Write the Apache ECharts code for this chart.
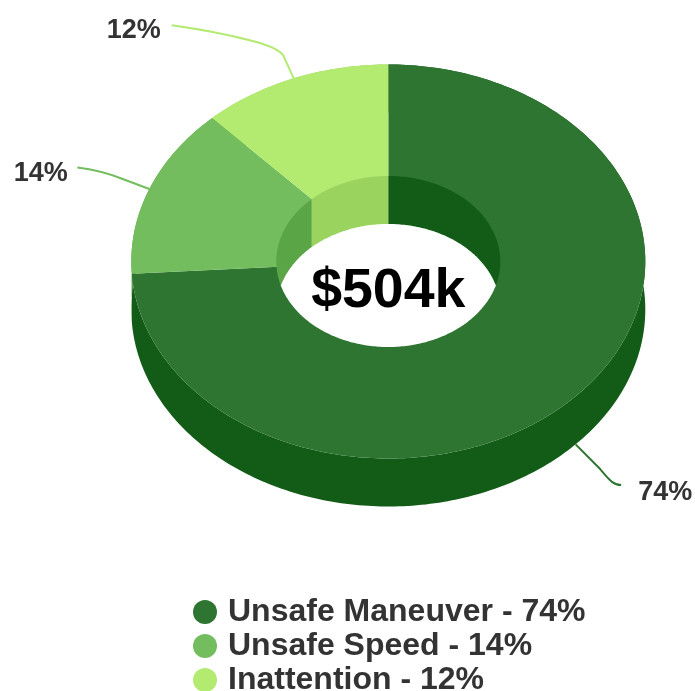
<!DOCTYPE html>
<html>
<head>
<meta charset="utf-8">
<style>html,body{margin:0;padding:0;background:#fff}#c{width:695px;height:691px}</style>
<script src="https://cdn.jsdelivr.net/npm/echarts@6/dist/echarts.min.js"></script>
</head>
<body>
<div id="c"></div>
<script>
var categories = ['Unsafe Maneuver', 'Unsafe Speed', 'Inattention'];
var values = [74, 14, 12];
var centerLabel = '$504k';

var topColors = ['#2e7531', '#73bd5e', '#b3ea70'];
var sideColors = ['#125c17', '#5aa545', '#9bd35f'];
var textColor = '#333333';
var FONT = '"Liberation Sans", Arial, sans-serif';

var CX = 388.3, CY = 261.5, RX = 257, RY = 197, IRX = 112, IRY = 85.5, DEPTH = 48;
// leader path after the anchor point on the rim, relative to that anchor; label centre likewise
var leaders = [
  { path: 'l24.5 24.7 c8 9 12 16 21 16', lx: 89.5, ly: 48.5 },
  { path: 'l-28 -10.5 q-20 -8 -44 -11', lx: -108.5, ly: -15.5 },
  { path: 'l-10 -22 q-4 -8 -30 -15 q-38 -10 -82 -16', lx: -160, ly: -48 }
];

var total = values.reduce(function (a, b) { return a + b; }, 0);
function pt(deg, rx, ry, dy) {
  var r = deg * Math.PI / 180;
  return [CX + rx * Math.sin(r), CY - ry * Math.cos(r) + (dy || 0)];
}
function arc(a0, a1, rx, ry, dy) {
  var n = Math.max(2, Math.ceil(Math.abs(a1 - a0))), out = [];
  for (var i = 0; i <= n; i++) out.push(pt(a0 + (a1 - a0) * i / n, rx, ry, dy));
  return out;
}
function startOf(k) {
  var s = 0;
  for (var i = 0; i < k; i++) s += values[i];
  return s / total * 360;
}
// inner wall: rim arc extruded straight down, cut off at the front edge of the opening
function wall(a0, a1) {
  var rim = arc(a0, a1, IRX, IRY, 0);
  var low = rim.map(function (p) {
    var u = (p[0] - CX) / IRX;
    var front = CY + IRY * Math.sqrt(Math.max(0, 1 - u * u));
    return [p[0], Math.min(p[1] + DEPTH, front)];
  });
  return rim.concat(low.reverse());
}

function sliceRenderer(k) {
  return function (params, api) {
    var a0 = startOf(k), a1 = a0 + api.value(0) / total * 360, mid = (a0 + a1) / 2;
    var children = [];
    var side = arc(a0, a1, RX, RY, 0).concat(arc(a1, a0, RX, RY, DEPTH));
    children.push({ type: 'polygon', z2: 1, shape: { points: side }, style: { fill: sideColors[k] } });
    children.push({ type: 'polygon', z2: 2, shape: { points: [[CX, CY]].concat(arc(a0, a1, RX, RY, 0)) }, style: { fill: topColors[k] } });
    children.push({ type: 'polygon', z2: 3, shape: { points: wall(a0, a1) }, style: { fill: sideColors[k] } });
    var front = Math.cos(mid * Math.PI / 180) < 0;
    var a = pt(mid, RX, RY, front ? DEPTH : 0);
    var lead = leaders[k];
    children.push({
      type: 'path', z2: 5,
      shape: { pathData: 'M' + a[0] + ' ' + a[1] + ' ' + lead.path },
      style: { fill: 'none', stroke: topColors[k], lineWidth: 2 }
    });
    children.push({
      type: 'text', z2: 6,
      style: {
        x: a[0] + lead.lx, y: a[1] + lead.ly,
        text: Math.round(api.value(0) / total * 100) + '%',
        font: 'bold 27px ' + FONT, fill: textColor, align: 'center', verticalAlign: 'middle'
      }
    });
    return { type: 'group', children: children };
  };
}

function holeRenderer() {
  // visible opening: intersection of the rim ellipse and the same ellipse lowered by the depth
  var t = Math.acos((DEPTH / 2) / IRY) * 180 / Math.PI;
  var lower = arc(180 - t, 180 + t, IRX, IRY, 0);
  var upper = arc(360 - t, 360 + t, IRX, IRY, DEPTH);
  return {
    type: 'polygon', z2: 4,
    shape: { points: lower.concat(upper) },
    style: { fill: '#ffffff' }
  };
}

var series = categories.map(function (name, k) {
  return {
    type: 'custom', name: name, coordinateSystem: 'none', silent: true,
    itemStyle: { color: topColors[k] },
    data: [[values[k]]],
    renderItem: sliceRenderer(k)
  };
});
series.push({
  type: 'custom', name: 'hole', coordinateSystem: 'none', silent: true,
  data: [[0]], renderItem: holeRenderer
});

var chart = echarts.init(document.getElementById('c'), null, { renderer: 'canvas' });
chart.setOption({
  animation: false,
  backgroundColor: '#ffffff',
  title: {
    text: centerLabel, left: CX, top: 260, textAlign: 'center', padding: 0,
    textStyle: { fontFamily: FONT, fontWeight: 'bold', fontSize: 55.5, color: '#000000', lineHeight: 64 }
  },
  legend: {
    data: categories, orient: 'vertical', left: 193, top: 595, height: 300, padding: 0,
    icon: 'circle', itemWidth: 24, itemHeight: 24, itemGap: 0, selectedMode: false,
    formatter: function (n) {
      return n + ' - ' + Math.round(values[categories.indexOf(n)] / total * 100) + '%';
    },
    textStyle: { fontFamily: FONT, fontWeight: 'bold', fontSize: 32, color: textColor, lineHeight: 32, padding: [2, 0, 0, 6] }
  },
  series: series
});
</script>
</body>
</html>
